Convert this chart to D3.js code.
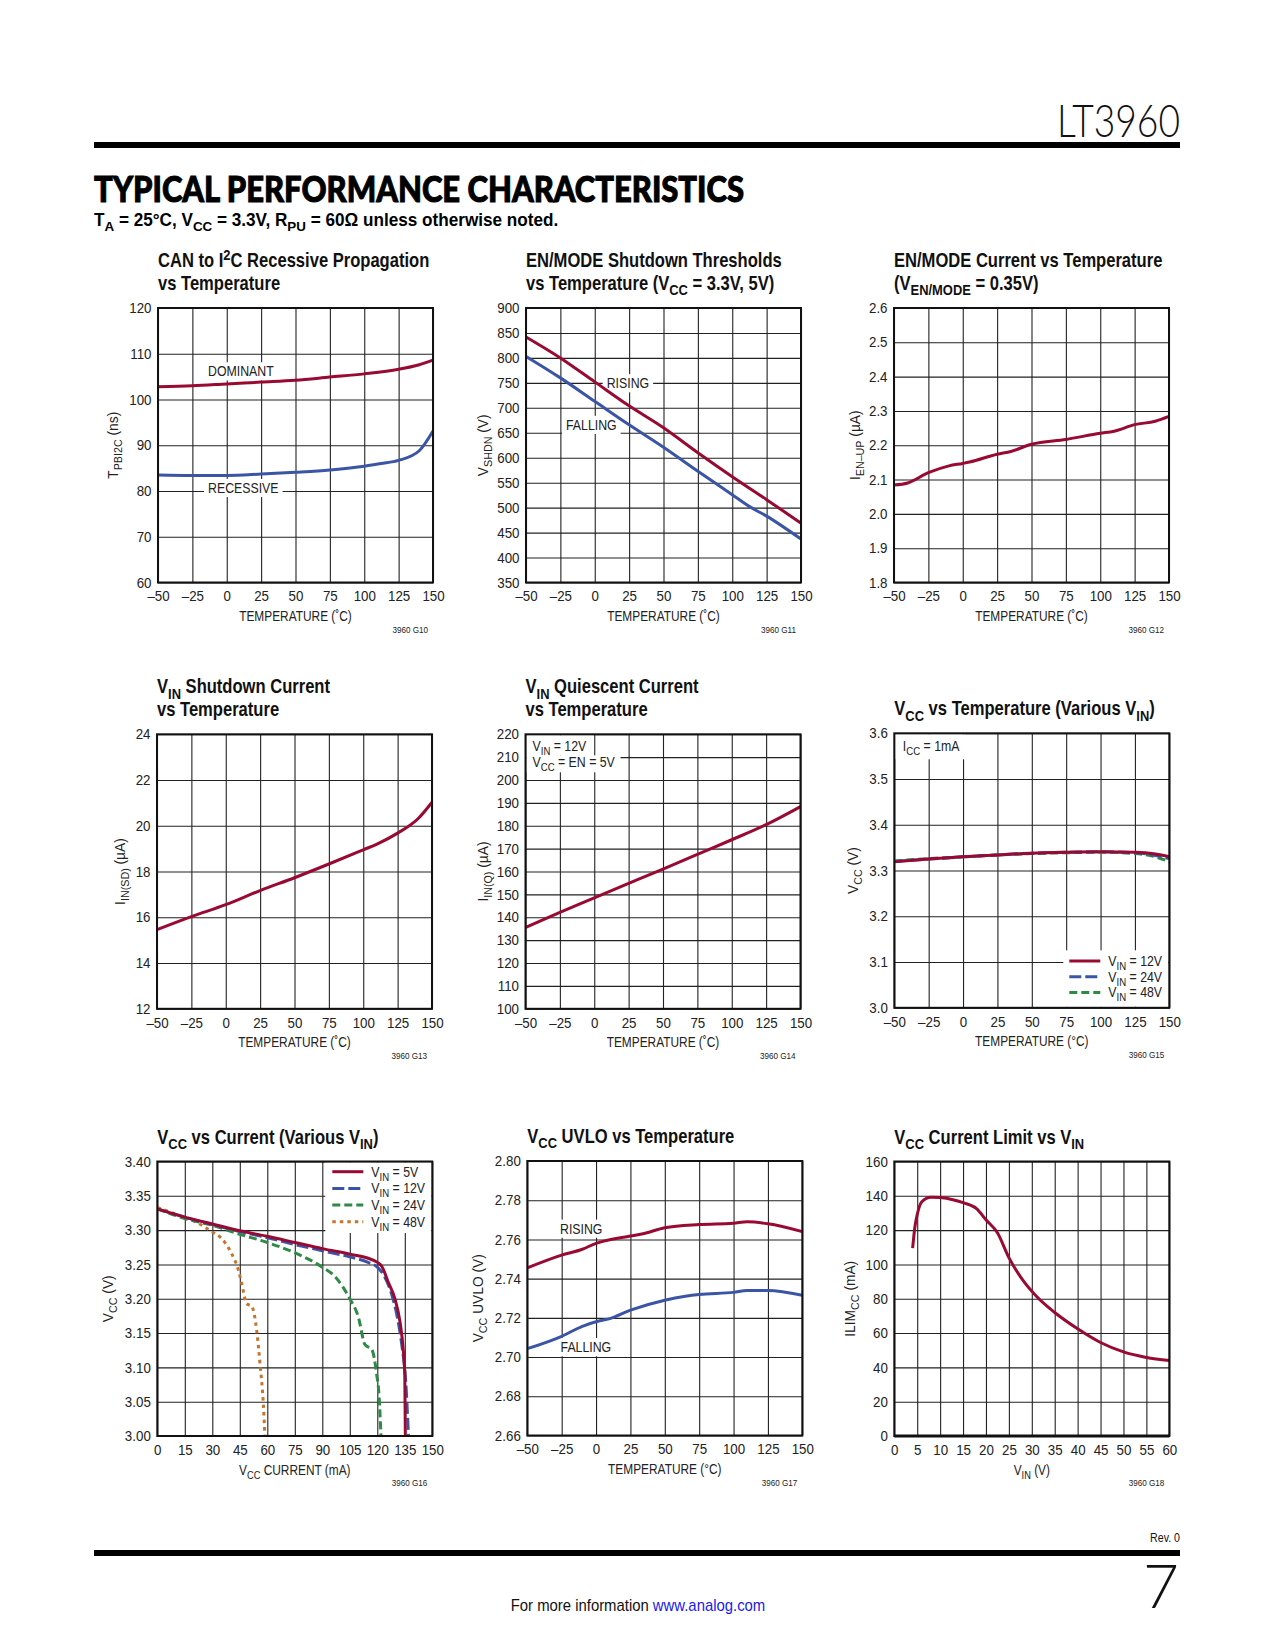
<!DOCTYPE html>
<html><head><meta charset="utf-8">
<script src="https://cdn.jsdelivr.net/npm/d3@7"></script>
<style>html,body{margin:0;padding:0;background:#fff}</style>
</head><body><svg id="page" width="1275" height="1650"></svg>
<script>
// ---------------- DATA ----------------
const tempTicks = [-50,-25,0,25,50,75,100,125,150];
// G10 CAN to I2C propagation (ns)
const g10Dominant  = [[-50,102.8],[-25,103.0],[0,103.4],[25,103.8],[50,104.2],[75,104.9],[100,105.6],[125,106.6],[140,107.6],[150,108.6]];
const g10Recessive = [[-50,83.5],[-25,83.4],[0,83.4],[25,83.7],[50,84.1],[75,84.6],[100,85.4],[112,86.0],[125,86.7],[140,88.8],[150,93.1]];
// G11 EN/MODE shutdown thresholds
const g11Rising  = [[-50,842],[-25,800],[0,752],[25,704],[50,660],[75,610],[100,562],[125,516],[150,469]];
const g11Falling = [[-50,803],[-25,760],[0,713],[25,666],[50,621],[75,573],[100,526],[112,503],[125,483],[150,437]];
// G12 EN/MODE current (uA)
const g12Current = [[-50,2.084],[-40,2.09],[-25,2.12],[-10,2.14],[0,2.147],[5,2.151],[25,2.174],[35,2.182],[50,2.203],[75,2.217],[100,2.235],[110,2.241],[125,2.26],[140,2.27],[150,2.284]];
// G13 VIN shutdown current (uA)
const g13Isd = [[-50,15.46],[-25,16.03],[0,16.55],[25,17.17],[50,17.73],[75,18.33],[100,18.95],[110,19.2],[125,19.68],[140,20.32],[150,21.03]];
// G14 VIN quiescent current (uA)
const g14Iq = [[-50,135.6],[-25,142.2],[0,148.5],[25,154.8],[50,161.1],[75,167.5],[100,173.9],[125,180.5],[150,188.4]];
// G15 VCC vs temperature (V)
const g15Vin12 = [[-50,3.319],[-25,3.325],[0,3.330],[25,3.334],[50,3.338],[75,3.340],[100,3.341],[125,3.340],[140,3.336],[150,3.330]];
const g15Vin24 = [[-50,3.320],[-25,3.325],[0,3.330],[25,3.334],[50,3.338],[75,3.340],[100,3.341],[125,3.339],[140,3.333],[150,3.326]];
const g15Vin48 = [[-50,3.321],[-25,3.326],[0,3.330],[25,3.334],[50,3.337],[75,3.339],[100,3.340],[125,3.337],[140,3.330],[150,3.319]];
// G16 VCC vs current (mA, V)
const g16Vin5  = [[0,3.331],[15,3.319],[30,3.309],[45,3.299],[60,3.291],[75,3.282],[90,3.273],[105,3.265],[115,3.259],[120,3.253],[122.5,3.247],[126,3.224],[129.6,3.200],[132.4,3.166],[134,3.13],[135,3.088],[135.3,3.0]];
const g16Vin12 = [[0,3.331],[15,3.319],[30,3.308],[45,3.298],[60,3.289],[75,3.279],[90,3.270],[105,3.261],[115,3.253],[120,3.246],[124,3.232],[128,3.205],[131,3.172],[133.5,3.13],[135.5,3.08],[137,3.0]];
const g16Vin24 = [[0,3.331],[15,3.317],[30,3.307],[45,3.294],[60,3.282],[75,3.267],[90,3.246],[97,3.232],[105,3.200],[109.6,3.174],[113.3,3.133],[117,3.126],[119.6,3.091],[121,3.057],[122,3.0]];
const g16Vin48 = [[0,3.333],[13.3,3.320],[20.5,3.3125],[29.6,3.298],[35,3.288],[40.5,3.266],[44.2,3.242],[46,3.223],[48.7,3.193],[51.5,3.189],[54.2,3.154],[56,3.106],[57.8,3.048],[58.7,3.0]];
// G17 VCC UVLO (V)
const g17Rising  = [[-50,2.7455],[-25,2.752],[-10,2.755],[0,2.758],[5,2.759],[25,2.7617],[35,2.763],[50,2.766],[75,2.7676],[100,2.7683],[110,2.769],[125,2.768],[150,2.764]];
const g17Falling = [[-50,2.7043],[-25,2.7106],[-10,2.7157],[0,2.718],[10,2.7196],[25,2.7239],[50,2.729],[65,2.731],[75,2.7319],[100,2.733],[110,2.7339],[125,2.734],[150,2.7315]];
// G18 VCC current limit (V, mA)
const g18Ilim = [[4,109.5],[4.5,122],[5,129],[6,136.5],[8,139.2],[10,139],[13,137.6],[15,136],[18,132.4],[20,126],[22.5,118.5],[25,104],[28,91],[31,81.5],[35,72],[40,62.5],[45,54.5],[50,49],[55,45.8],[60,44]];

// tick labels
const g10YTicks = [60,70,80,90,100,110,120];
const g11YTicks = [350,400,450,500,550,600,650,700,750,800,850,900];
const g12YTicks = [1.8,1.9,2.0,2.1,2.2,2.3,2.4,2.5,2.6];
const g13YTicks = [12,14,16,18,20,22,24];
const g14YTicks = [100,110,120,130,140,150,160,170,180,190,200,210,220];
const g15YTicks = [3.0,3.1,3.2,3.3,3.4,3.5,3.6];
const g16XTicks = [0,15,30,45,60,75,90,105,120,135,150];
const g16YTicks = [3.00,3.05,3.10,3.15,3.20,3.25,3.30,3.35,3.40];
const g17YTicks = [2.66,2.68,2.70,2.72,2.74,2.76,2.78,2.80];
const g18XTicks = [0,5,10,15,20,25,30,35,40,45,50,55,60];
const g18YTicks = [0,20,40,60,80,100,120,140,160];

// ---------------- RENDER ----------------
const RED='#990a32', BLUE='#3a55a6', GREEN='#2f8a45', ORANGE='#c8742c';
const SANS='"Liberation Sans", Arial, Helvetica, sans-serif';
const svg=d3.select('#page');
svg.append('rect').attr('width',1275).attr('height',1650).attr('fill','#fff');

function rich(sel,str,fs){
  const parts=str.split(/(_\{[^}]*\}|\^\{[^}]*\})/).filter(s=>s.length);
  let shift=0;
  parts.forEach(p=>{
    let t=p,target=0,small=false;
    if(p.startsWith('_{')){t=p.slice(2,-1);target=fs*0.28;small=true;}
    else if(p.startsWith('^{')){t=p.slice(2,-1);target=-fs*0.38;small=true;}
    const ts=sel.append('tspan').text(t);
    if(target!==shift){ts.attr('dy',target-shift);shift=target;}
    if(small) ts.attr('font-size',fs*0.78);
  });
  return sel;
}
// condensed text: a regular sans squeezed horizontally
function ntext(parent,x,y,str,o={}){
  const fs=o.fs||14.5, sx=o.sx||0.85;
  const g=parent.append('g').attr('transform',`translate(${x},${y})${o.rot?' rotate(-90)':''} scale(${sx},1)`);
  const t=g.append('text').attr('font-family',o.family||SANS).attr('font-size',fs).attr('fill',o.fill||'#222')
    .attr('text-anchor',o.anchor||'start');
  if(o.bold) t.attr('font-weight','bold');
  if(o.dy) t.attr('dy',o.dy);
  rich(t,str,fs);
  return {g,t,sx,x,y};
}
const fmtT = v => v<0 ? '–'+Math.abs(v) : String(v);

function chart(o){
  const g=svg.append('g').attr('transform',`translate(${o.x},${o.y})`);
  const w=275,h=o.h||274.5;
  const x=d3.scaleLinear().domain(o.xd).range([0,w]);
  const y=d3.scaleLinear().domain(o.yd).range([h,0]);
  o.title.forEach((t,i)=>{
    const base=-18-(o.title.length-1-i)*23;
    ntext(g,0,base,t,{fs:19.5,sx:0.85,bold:true,fill:'#111'});
  });
  const TSX=0.92;
  const gx=g.append('g').attr('transform',`translate(0,${h})`)
    .call(d3.axisBottom(x).tickValues(o.xt).tickSize(-h).tickPadding(8.5).tickFormat(o.xf||fmtT));
  const gy=g.append('g')
    .call(d3.axisLeft(y).tickValues(o.yt).tickSize(-w).tickPadding(7).tickFormat(o.yf));
  [gx,gy].forEach(a=>{
    a.select('.domain').remove();
    a.selectAll('line').attr('stroke','#222').attr('stroke-width',1.1);
    a.selectAll('text').attr('font-family',SANS).attr('font-size',14.5).attr('fill','#222')
      .attr('transform',`scale(${TSX},1)`);
  });
  gy.selectAll('text').attr('x',-6.5/TSX);
  const boxes=g.append('g'), lines=g.append('g'), texts=g.append('g');
  (o.blank||[]).forEach(b=>boxes.append('rect').attr('x',b[0]).attr('y',b[1]).attr('width',b[2]-b[0]).attr('height',b[3]-b[1]).attr('fill','#fff'));
  const line=d3.line().x(d=>x(d[0])).y(d=>y(d[1])).curve(d3.curveMonotoneX);
  o.series.forEach(s=>{
    lines.append('path').attr('d',line(s.data)).attr('fill','none').attr('stroke',s.color)
      .attr('stroke-width',s.sw||3).attr('stroke-dasharray',s.dash||null).attr('stroke-linejoin','round');
  });
  g.append('rect').attr('width',w).attr('height',h).attr('fill','none').attr('stroke','#111').attr('stroke-width',2);
  if(o.thickBottom) g.append('line').attr('x1',0).attr('x2',w).attr('y1',h).attr('y2',h).attr('stroke','#111').attr('stroke-width',3);
  (o.labels||[]).forEach(l=>{
    const px=l.px!==undefined?l.px:x(l.x), py=l.py!==undefined?l.py:y(l.y);
    const r=ntext(texts,px,py,l.text,{fs:14.5});
    if(l.box){
      const b=r.t.node().getBBox();
      boxes.append('rect').attr('x',px+b.x*r.sx-4).attr('y',py+b.y-1).attr('width',b.width*r.sx+8).attr('height',b.height+2).attr('fill','#fff');
    }
  });
  (o.legend||[]).forEach((l,i)=>{
    const by=o.legY+i*o.legDy;
    texts.append('line').attr('x1',o.legX).attr('x2',o.legX+31).attr('y1',by-5).attr('y2',by-5)
      .attr('stroke',l.color).attr('stroke-width',3).attr('stroke-dasharray',l.dash||null);
    ntext(texts,o.legX+39,by,l.text,{fs:14.5});
  });
  ntext(g,w/2,h+38.5,o.xtitle,{fs:14.5,sx:0.82,anchor:'middle'});
  ntext(g,o.ytx,h/2,o.ytitle,{fs:14.5,sx:0.95,anchor:'middle',rot:true,dy:'0.35em'});
  ntext(g,w-5,h+50,o.code,{fs:9,sx:0.9,anchor:'end'});
}

const TT='TEMPERATURE (˚C)', TT2='TEMPERATURE (°C)';
chart({x:158,y:308,xd:[-50,150],xt:tempTicks,yd:[60,120],yt:g10YTicks,yf:d3.format('d'),
  title:['CAN to I^{2}C Recessive Propagation','vs Temperature'],xtitle:TT,ytitle:'T_{PBI2C} (ns)',ytx:-45,code:'3960 G10',
  series:[{data:g10Dominant,color:RED},{data:g10Recessive,color:BLUE}],
  labels:[{x:-13.6,y:105.1,text:'DOMINANT',box:true},{x:-13.6,y:79.6,text:'RECESSIVE',box:true}]});
chart({x:526,y:308,xd:[-50,150],xt:tempTicks,yd:[350,900],yt:g11YTicks,yf:d3.format('d'),
  title:['EN/MODE Shutdown Thresholds','vs Temperature (V_{CC} = 3.3V, 5V)'],xtitle:TT,ytitle:'V_{SHDN} (V)',ytx:-43,code:'3960 G11',
  series:[{data:g11Rising,color:RED},{data:g11Falling,color:BLUE}],
  labels:[{x:8.7,y:739.5,text:'RISING',box:true},{x:-20.9,y:656,text:'FALLING',box:true}]});
chart({x:894,y:308,xd:[-50,150],xt:tempTicks,yd:[1.8,2.6],yt:g12YTicks,yf:d3.format('.1f'),
  title:['EN/MODE Current vs Temperature','(V_{EN/MODE} = 0.35V)'],xtitle:TT,ytitle:'I_{EN–UP} (µA)',ytx:-39,code:'3960 G12',
  series:[{data:g12Current,color:RED}]});
chart({x:157,y:734.3,xd:[-50,150],xt:tempTicks,yd:[12,24],yt:g13YTicks,yf:d3.format('d'),
  title:['V_{IN} Shutdown Current','vs Temperature'],xtitle:TT,ytitle:'I_{IN(SD)} (µA)',ytx:-37,code:'3960 G13',
  series:[{data:g13Isd,color:RED}]});
chart({x:525.5,y:734.3,xd:[-50,150],xt:tempTicks,yd:[100,220],yt:g14YTicks,yf:d3.format('d'),
  title:['V_{IN} Quiescent Current','vs Temperature'],xtitle:TT,ytitle:'I_{IN(Q)} (µA)',ytx:-43,code:'3960 G14',
  series:[{data:g14Iq,color:RED}],
  blank:[[1,1,68,21],[1,21,95,38]],
  labels:[{px:7,py:16.7,text:'V_{IN} = 12V'},{px:7,py:32.6,text:'V_{CC} = EN = 5V'}]});
chart({x:894.3,y:733.3,xd:[-50,150],xt:tempTicks,yd:[3.0,3.6],yt:g15YTicks,yf:d3.format('.1f'),
  title:['V_{CC} vs Temperature (Various V_{IN})'],xtitle:TT2,ytitle:'V_{CC} (V)',ytx:-41,code:'3960 G15',
  series:[{data:g15Vin48,color:GREEN,dash:'8,4'},{data:g15Vin24,color:BLUE,dash:'12,4'},{data:g15Vin12,color:RED}],
  blank:[[1,1,71,26],[169,217,274,273.5]],
  labels:[{px:8.5,py:17.7,text:'I_{CC} = 1mA'}],
  legX:175,legY:232.7,legDy:15.7,
  legend:[{color:RED,text:'V_{IN} = 12V'},{color:BLUE,dash:'12,4',text:'V_{IN} = 24V'},{color:GREEN,dash:'8,4',text:'V_{IN} = 48V'}]});
chart({x:157.3,y:1161.5,xd:[0,150],xt:g16XTicks,xf:d3.format('d'),yd:[3.0,3.4],yt:g16YTicks,yf:d3.format('.2f'),
  title:['V_{CC} vs Current (Various V_{IN})'],xtitle:'V_{CC} CURRENT (mA)',ytitle:'V_{CC} (V)',ytx:-49,code:'3960 G16',
  series:[{data:g16Vin48,color:ORANGE,dash:'3.5,4'},{data:g16Vin24,color:GREEN,dash:'8,4'},{data:g16Vin12,color:BLUE,dash:'12,4'},{data:g16Vin5,color:RED}],
  blank:[[168,1,274,71.5]],
  legX:175,legY:15.2,legDy:16.7,
  legend:[{color:RED,text:'V_{IN} = 5V'},{color:BLUE,dash:'12,4',text:'V_{IN} = 12V'},{color:GREEN,dash:'8,4',text:'V_{IN} = 24V'},{color:ORANGE,dash:'3.5,4',text:'V_{IN} = 48V'}]});
chart({x:527.3,y:1161,xd:[-50,150],xt:tempTicks,yd:[2.66,2.80],yt:g17YTicks,yf:d3.format('.2f'),
  title:['V_{CC} UVLO vs Temperature'],xtitle:TT2,ytitle:'V_{CC} UVLO (V)',ytx:-49,code:'3960 G17',
  series:[{data:g17Rising,color:RED},{data:g17Falling,color:BLUE}],
  labels:[{x:-26.2,y:2.763,text:'RISING',box:true},{x:-25.8,y:2.7026,text:'FALLING',box:true}]});
chart({x:894.3,y:1161.5,xd:[0,60],xt:g18XTicks,xf:d3.format('d'),yd:[0,160],yt:g18YTicks,yf:d3.format('d'),
  title:['V_{CC} Current Limit vs V_{IN}'],xtitle:'V_{IN} (V)',ytitle:'ILIM_{CC} (mA)',ytx:-44,code:'3960 G18',thickBottom:true,
  series:[{data:g18Ilim,color:RED}]});

// ---------------- PAGE TEXT ----------------
svg.append('text').attr('x',1180).attr('y',137).attr('text-anchor','end').attr('font-family','Lato')
  .attr('font-weight',300).attr('font-size',46).attr('fill','#111').attr('textLength',123).attr('lengthAdjust','spacingAndGlyphs').text('LT3960');
svg.append('rect').attr('x',94).attr('y',142).attr('width',1086).attr('height',6).attr('fill','#000');
svg.append('text').attr('x',94).attr('y',202).attr('font-family','Lato').attr('font-weight',900).attr('font-size',36)
  .attr('fill','#000').attr('stroke','#000').attr('stroke-width',1).attr('textLength',650).attr('lengthAdjust','spacingAndGlyphs').text('TYPICAL PERFORMANCE CHARACTERISTICS');
ntext(svg,94,226,'T_{A} = 25°C, V_{CC} = 3.3V, R_{PU} = 60Ω unless otherwise noted.',{fs:17.5,sx:0.98,bold:true,fill:'#000'});
ntext(svg,1180,1542,'Rev. 0',{fs:12.5,anchor:'end',fill:'#111'});
svg.append('rect').attr('x',94).attr('y',1550).attr('width',1086).attr('height',6).attr('fill','#000');
svg.append('text').attr('x',1179).attr('y',1608).attr('text-anchor','end').attr('font-family','Lato').attr('font-weight',300)
  .attr('font-size',62).attr('fill','#111').text('7');
const fg=svg.append('g').attr('transform','translate(638,1611) scale(0.93,1)');
const ft=fg.append('text').attr('text-anchor','middle').attr('font-family',SANS).attr('font-size',16).attr('fill','#111');
ft.append('tspan').text('For more information ');
ft.append('tspan').attr('fill','#1a1aee').text('www.analog.com');
</script></body></html>
